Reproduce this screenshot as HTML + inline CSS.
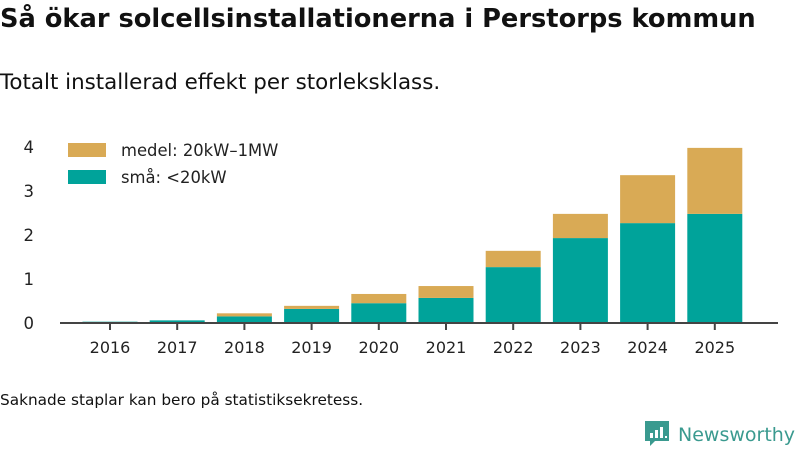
<!DOCTYPE html>
<html><head><meta charset="utf-8"><style>
body{margin:0;width:800px;height:450px;background:#fff;font-family:"DejaVu Sans",sans-serif;overflow:hidden;position:relative;color:#111}
#t{position:absolute;left:0;top:4px;font-size:25.7px;font-weight:bold;margin:0;white-space:nowrap}
#s{position:absolute;left:0;top:70px;font-size:21.4px;white-space:nowrap}
#n{position:absolute;left:0;top:391px;font-size:15.3px;white-space:nowrap}
</style></head><body>
<h1 id="t">Så ökar solcellsinstallationerna i Perstorps kommun</h1>
<div id="s">Totalt installerad effekt per storleksklass.</div>
<div id="n">Saknade staplar kan bero på statistiksekretess.</div>
<svg id="c" width="800" height="450" style="position:absolute;left:0;top:0"></svg>
<script>
const years=["2016","2017","2018","2019","2020","2021","2022","2023","2024","2025"];
const small=[0.03,0.06,0.15,0.32,0.45,0.57,1.27,1.93,2.27,2.48];
const medel=[0.0,0.0,0.07,0.07,0.21,0.27,0.37,0.55,1.09,1.50];
const yTicks=[0,1,2,3,4];
const NS="http://www.w3.org/2000/svg";
const svg=document.getElementById('c');
const y=v=>323-v*44;
const x=i=>110+i*67.2;
function mk(t,a,p){const e=document.createElementNS(NS,t);for(const k in a)e.setAttribute(k,a[k]);(p||svg).appendChild(e);return e;}
yTicks.forEach(v=>{
 const t=mk('text',{x:34,y:y(v)+6,'text-anchor':'end','font-size':16.5,fill:'#222','font-family':'DejaVu Sans'});t.textContent=v;
 
 
});
years.forEach((yr,i)=>{
 const w=55,cx=x(i);
 const b1=mk('rect',{x:cx-w/2,y:y(small[i]),width:w,height:small[i]*44,fill:'#00a39a'});
 
 
 const b2=mk('rect',{x:cx-w/2,y:y(small[i]+medel[i]),width:w,height:medel[i]*44,fill:'#d9aa55'});
 
 
 const tk=mk('line',{x1:cx,x2:cx,y1:323,y2:330,stroke:'#444','stroke-width':2});
 
 
 const t=mk('text',{x:cx,y:353,'text-anchor':'middle','font-size':16,fill:'#222','font-family':'DejaVu Sans'});t.textContent=yr;
 
 
});
const ax=mk('line',{x1:60,x2:778,y1:323,y2:323,stroke:'#444','stroke-width':2});


const lg=mk('g',{});


[['#d9aa55','medel: 20kW–1MW',143],['#00a39a','små: <20kW',170]].forEach(([c,l,yy])=>{
 mk('rect',{x:68,y:yy,width:38,height:14,fill:c},lg);
 const t=mk('text',{x:121,y:yy+13,'font-size':16.4,fill:'#222','font-family':'DejaVu Sans'},lg);t.textContent=l;
 
 
});
const logo=mk('g',{});


mk('path',{d:'M645 421h24v20h-14l-5 5v-5h-5z',fill:'#3a9a8f'},logo);
[[650,433,3,5],[655,430,3,8],[660,427,3,11],[665,436,2,2]].forEach(r=>mk('rect',{x:r[0],y:r[1],width:r[2],height:r[3],fill:'#fff'},logo));
const lt=mk('text',{x:678,y:441,'font-size':19,fill:'#3a9a8f','font-family':'DejaVu Sans'},logo);lt.textContent='Newsworthy';
</script>
</body></html>
